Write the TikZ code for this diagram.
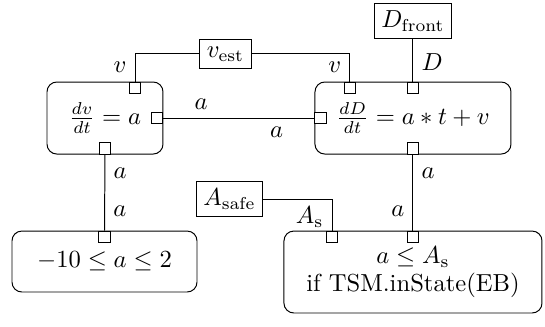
\documentclass[tikz,border=0pt]{standalone}
\usepackage{amsmath,amsfonts,amssymb}
\usetikzlibrary{positioning,calc}

\begin{document}
\begin{tikzpicture}[
	block/.style={draw,rounded corners=4pt,inner sep=0pt},
	port/.style={draw,fill=white,minimum size=4.5pt,inner sep=0pt},
	signal/.style={draw,inner sep=2.8pt}]
	\useasboundingbox (0,0) rectangle (7.786,-4.671);

	\node[block,minimum width=1.657cm,minimum height=1.029cm]
		  (E1) at (1.500,-1.686) {$\frac{dv}{dt}=a$\hspace{6pt}};
	\node[block,minimum width=2.800cm,minimum height=1.029cm]
		  (E2) at (5.900,-1.686) {$\frac{dD}{dt}=a*t+v$};
	\node[block,minimum width=2.643cm,minimum height=0.871cm]
		  (E3) at (1.493,-3.736) {$-10\leq a\leq 2$};
	\node[block,minimum width=3.686cm,minimum height=1.171cm,align=center]
		  (E4) at (5.900,-3.886) {$a\leq A_{\mathrm{s}}$\\[-0.8pt] if TSM.inState(EB)};

	\node[signal] (V) at (3.221,-0.771) {$v_{\mathrm{est}}$};
	\node[signal] (D) at (5.900,-0.300) {$D_{\mathrm{front}}$};
	\node[signal] (A) at (3.279,-2.843) {$A_{\mathrm{safe}}$};

	% ports
	\node[port,anchor=north] (E1v) at ([xshift=0.429cm]E1.north) {};
	\node[port,anchor=east] (E1a) at (E1.east) {};
	\node[port,anchor=south] (E1b) at (E1.south) {};
	\node[port,anchor=north] (E2v) at ([xshift=-0.900cm]E2.north) {};
	\node[port,anchor=north] (E2D) at (E2.north) {};
	\node[port,anchor=west] (E2a) at (E2.west) {};
	\node[port,anchor=south] (E2b) at (E2.south) {};
	\node[port,anchor=north] (E3a) at (E3.north) {};
	\node[port,anchor=north] (E4A) at ([xshift=-1.157cm]E4.north) {};
	\node[port,anchor=north] (E4a) at (E4.north) {};

	\draw (E1v.north) |- node[pos=0.26,left]{$v$} (V.west);
	\draw (V.east) -| node[pos=0.74,left]{$v$} (E2v.north);
	\draw (D.south) -- node[pos=0.54,right]{$D$} (E2D.north);
	\draw (E1a.east) -- node[pos=0.25,above]{$a$}
		  node[pos=0.75,below]{$a$} (E2a.west);
	\draw (E1b.south) -- node[pos=0.24,right]{$a$}
		  node[pos=0.74,right]{$a$} (E3a.north);
	\draw (E2b.south) -- node[pos=0.24,right]{$a$}
		  node[pos=0.74,left]{$a$} (E4a.north);
	\draw (A.east) -| node[pos=0.79,left]{$A_{\mathrm{s}}$} (E4A.north);
\end{tikzpicture}
\end{document}
